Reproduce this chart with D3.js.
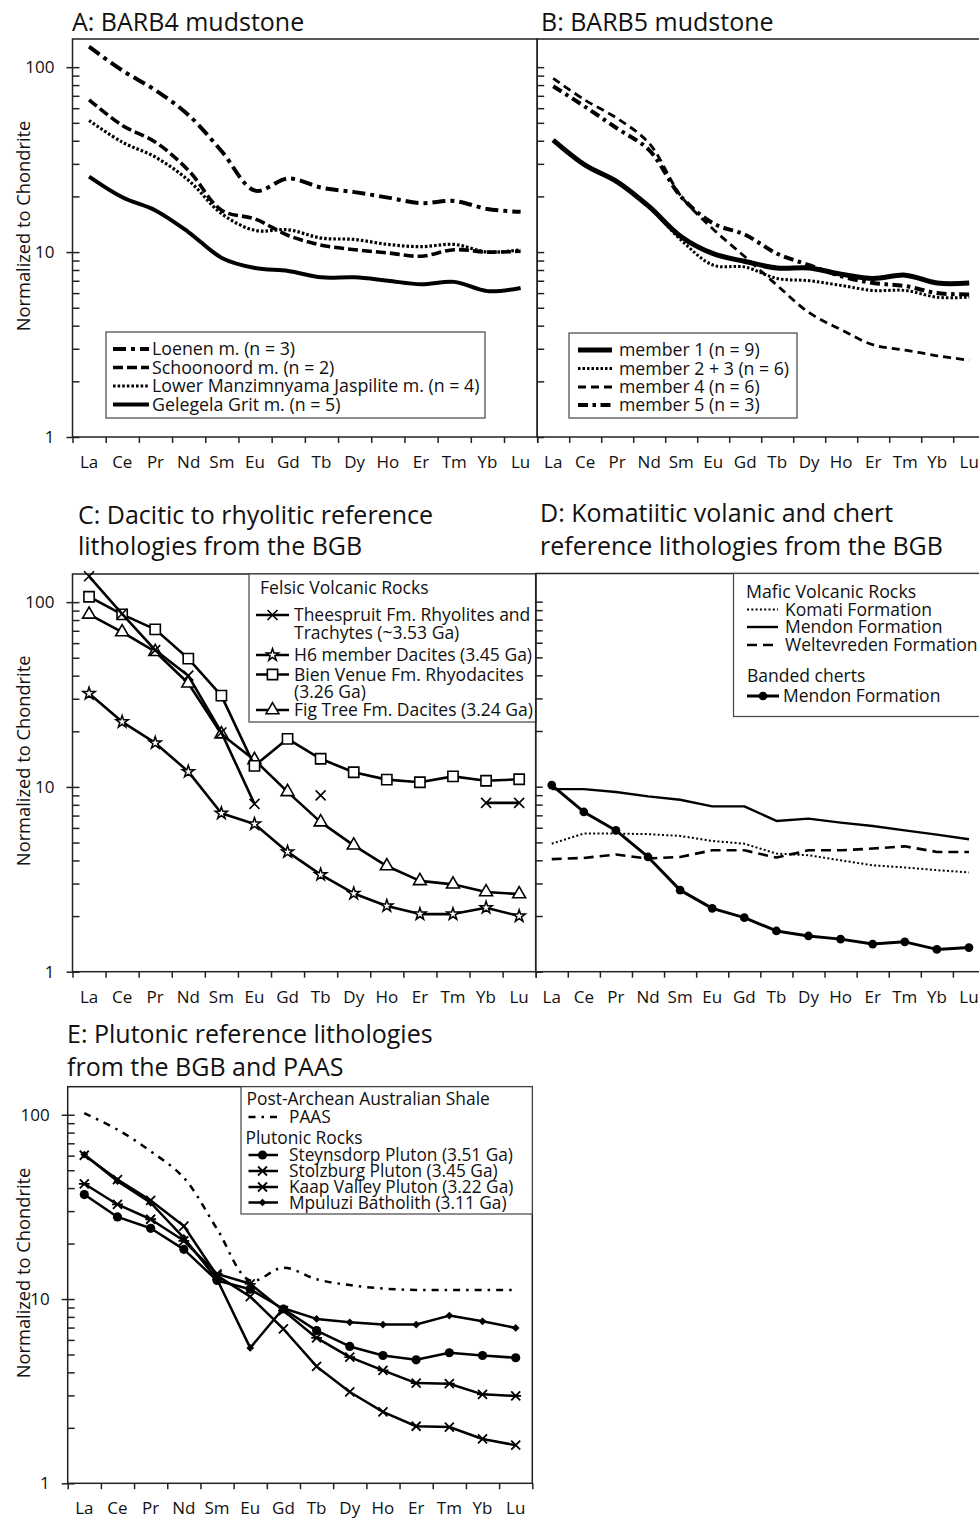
<!DOCTYPE html>
<html>
<head>
<meta charset="utf-8">
<script src="https://cdn.jsdelivr.net/npm/d3@7"></script>
<style>
  html, body { margin: 0; padding: 0; background: #fff; }
  svg { display: block; font-family: 'Open Sans', sans-serif; }
</style>
</head>
<body>
<svg id="fig" width="979" height="1519"></svg>
<script>
// ---- rare earth elements (x categories) and y tick labels ----
const elements = ["La", "Ce", "Pr", "Nd", "Sm", "Eu", "Gd", "Tb", "Dy", "Ho", "Er", "Tm", "Yb", "Lu"];
const yTickValues = [1, 10, 100];
const yTickLabels = ["1", "10", "100"];
const yMinorValues = [2, 3, 4, 5, 6, 7, 8, 9, 20, 30, 40, 50, 60, 70, 80, 90];
const yDomain = [1, 142];

// ---- A: BARB4 mudstone ----
const barb4Loenen       = [129, 96, 75, 55, 35, 21.5, 25, 22.3, 21.1, 19.7, 18.4, 18.9, 17.1, 16.5];
const barb4Schoonoord   = [66.6, 48.4, 39.3, 27.6, 16.8, 15.1, 12.3, 10.9, 10.3, 9.9, 9.5, 10.3, 10.0, 10.1];
const barb4LowerManz    = [51.5, 39.3, 32.6, 24.4, 16.1, 13.1, 13.2, 11.9, 11.7, 11.0, 10.7, 11.0, 10.0, 10.3];
const barb4Gelegela     = [25.6, 19.8, 16.8, 12.8, 9.3, 8.2, 7.9, 7.3, 7.3, 7.0, 6.7, 6.9, 6.15, 6.4];

// ---- B: BARB5 mudstone ----
const barb5Member1      = [40.3, 29.5, 24.0, 17.6, 12.1, 9.8, 8.9, 8.2, 8.2, 7.6, 7.2, 7.5, 6.8, 6.8];
const barb5Member23     = [40.3, 29.5, 24.0, 17.6, 11.6, 8.5, 8.3, 7.2, 7.0, 6.6, 6.2, 6.2, 5.7, 5.7];
const barb5Member4      = [86.9, 66.3, 52.8, 38.7, 20.0, 13.3, 9.4, 6.6, 4.7, 3.8, 3.15, 2.95, 2.75, 2.6];
const barb5Member5      = [78.9, 61.0, 46.6, 35.6, 19.9, 14.3, 12.4, 9.8, 8.5, 7.4, 6.8, 6.55, 6.0, 5.9];

// ---- C: felsic volcanic rocks ----
const theespruit        = [138, 86.5, 55, 40, 19.7, 8.1, null, 9.0, null, null, null, null, 8.2, 8.2];
const h6Dacites         = [32.0, 22.5, 17.3, 12.1, 7.2, 6.3, 4.45, 3.35, 2.65, 2.27, 2.05, 2.05, 2.22, 2.0];
const bienVenue         = [107, 85.8, 71.2, 49.5, 31.2, 13.0, 18.2, 14.2, 12.0, 10.95, 10.6, 11.4, 10.8, 11.0];
const figTree           = [85.8, 68.9, 53.9, 36.4, 19.3, 14.0, 9.4, 6.45, 4.83, 3.73, 3.1, 2.97, 2.7, 2.63];

// ---- D: mafic volcanic rocks and banded cherts ----
const komati            = [4.92, 5.58, 5.58, 5.54, 5.42, 5.09, 4.92, 4.35, 4.26, 4.0, 3.76, 3.66, 3.54, 3.44];
const mendonVolcanic    = [9.7, 9.7, 9.36, 8.87, 8.5, 7.83, 7.83, 6.53, 6.72, 6.39, 6.13, 5.81, 5.51, 5.2];
const weltevreden       = [4.06, 4.12, 4.3, 4.09, 4.17, 4.53, 4.53, 4.14, 4.53, 4.53, 4.63, 4.76, 4.44, 4.44];
const mendonChert       = [10.2, 7.3, 5.8, 4.17, 2.76, 2.2, 1.96, 1.66, 1.56, 1.5, 1.41, 1.45, 1.32, 1.35];

// ---- E: plutonic rocks and PAAS ----
const paas              = [102, 83, 63.4, 45.5, 24, 12.6, 14.8, 12.8, 11.9, 11.4, 11.2, 11.2, 11.2, 11.2];
const steynsdorp        = [36.9, 27.9, 24.2, 18.6, 12.6, 11.3, 8.83, 6.74, 5.53, 4.94, 4.68, 5.11, 4.94, 4.8];
const stolzburg         = [60.3, 44.5, 34.3, 24.9, 13.4, 10.3, 6.88, 4.31, 3.13, 2.44, 2.04, 2.02, 1.74, 1.61];
const kaapValley        = [42.2, 32.6, 27.1, 20.7, 13.7, 12.1, 8.65, 6.15, 4.84, 4.10, 3.50, 3.47, 3.04, 2.98];
const mpuluzi           = [60.8, 43.6, 33.3, 21.5, 12.8, 5.43, 8.91, 7.80, 7.48, 7.27, 7.27, 8.13, 7.57, 6.97];

// ---- marker shapes ----
const symTimes = { draw(ctx, size) { const r = Math.sqrt(size) / 2;
  ctx.moveTo(-r, -r); ctx.lineTo(r, r); ctx.moveTo(r, -r); ctx.lineTo(-r, r); } };
const symTimesBar = { draw(ctx, size) { const r = Math.sqrt(size) / 2;
  ctx.moveTo(-r, -r); ctx.lineTo(r, r); ctx.moveTo(r, -r); ctx.lineTo(-r, r);
  ctx.moveTo(-r * 1.2, 0); ctx.lineTo(r * 1.2, 0); } };
const symDiamond = { draw(ctx, size) { const r = Math.sqrt(size) / 2;
  ctx.moveTo(0, -r); ctx.lineTo(r, 0); ctx.lineTo(0, r); ctx.lineTo(-r, 0); ctx.closePath(); } };

const smooth = d3.curveCatmullRom.alpha(0.5);

// ---- series styles ----
const S = {
  loenen:     { name: "Loenen m. (n = 3)", values: barb4Loenen, width: 4, dash: "13,5,4,5", curve: smooth },
  schoonoord: { name: "Schoonoord m. (n = 2)", values: barb4Schoonoord, width: 3.6, dash: "10,4", curve: smooth },
  lowerManz:  { name: "Lower Manzimnyama Jaspilite m. (n = 4)", values: barb4LowerManz, width: 3.2, dash: "2.6,2", curve: smooth },
  gelegela:   { name: "Gelegela Grit m. (n = 5)", values: barb4Gelegela, width: 4, dash: null, curve: smooth },

  member1:    { name: "member 1 (n = 9)", values: barb5Member1, width: 5, dash: null, curve: smooth },
  member23:   { name: "member 2 + 3 (n = 6)", values: barb5Member23, width: 3, dash: "2.5,2", curve: smooth },
  member4:    { name: "member 4 (n = 6)", values: barb5Member4, width: 2.8, dash: "8,5", curve: smooth },
  member5:    { name: "member 5 (n = 3)", values: barb5Member5, width: 4, dash: "10,4.5,3.5,4.5", curve: smooth },

  theespruit: { values: theespruit, width: 2.6, marker: symTimes, msize: 100, mfill: "none", mwidth: 1.6 },
  h6:         { values: h6Dacites, width: 2.6, marker: d3.symbolStar, msize: 46, mfill: "#fff", mwidth: 1.5 },
  bienVenue:  { values: bienVenue, width: 2.6, marker: d3.symbolSquare, msize: 105, mfill: "#fff", mwidth: 1.6 },
  figTree:    { values: figTree, width: 2.6, marker: d3.symbolTriangle, msize: 72, mfill: "#fff", mwidth: 1.6 },

  komati:     { values: komati, width: 2, dash: "2,2.3" },
  mendonV:    { values: mendonVolcanic, width: 2.4, dash: null },
  weltev:     { values: weltevreden, width: 2.6, dash: "10,6" },
  mendonC:    { values: mendonChert, width: 3, dash: null, marker: d3.symbolCircle, msize: 60, mfill: "#000", mwidth: 0 },

  paas:       { values: paas, width: 2.5, dash: "7,6,2.5,6", curve: smooth },
  steyn:      { values: steynsdorp, width: 2.5, marker: d3.symbolCircle, msize: 66, mfill: "#000", mwidth: 0 },
  stolz:      { values: stolzburg, width: 2.5, marker: symTimes, msize: 81, mfill: "none", mwidth: 1.8 },
  kaap:       { values: kaapValley, width: 2.5, marker: symTimesBar, msize: 81, mfill: "none", mwidth: 1.8 },
  mpul:       { values: mpuluzi, width: 2.5, marker: symDiamond, msize: 60, mfill: "#000", mwidth: 0 }
};

// ---- panel layout ----
const panels = [
  { frame: { left: 72.5, right: 537.2, top: 39, bottom: 437 }, yLabels: true,
    title: [{ t: "A: BARB4 mudstone", x: 72, y: 31 }],
    series: [S.gelegela, S.lowerManz, S.schoonoord, S.loenen],
    legend: { box: [106, 332, 379, 86], size: 17.8, rows: [
      { s: S.loenen, x0: 113, x1: 149, tx: 152, cy: 349, text: [S.loenen.name] },
      { s: S.schoonoord, x0: 113, x1: 149, tx: 152, cy: 367.5, text: [S.schoonoord.name] },
      { s: S.lowerManz, x0: 113, x1: 149, tx: 152, cy: 386, text: [S.lowerManz.name] },
      { s: S.gelegela, x0: 113, x1: 149, tx: 152, cy: 404.5, text: [S.gelegela.name] } ] } },
  { frame: { left: 537.2, right: 985.2, top: 39, bottom: 437 }, yLabels: false,
    title: [{ t: "B: BARB5 mudstone", x: 541, y: 31 }],
    series: [S.member4, S.member5, S.member23, S.member1],
    legend: { box: [569, 333, 228, 85], size: 17.7, rows: [
      { s: S.member1, x0: 578, x1: 612, tx: 619, cy: 350, text: [S.member1.name] },
      { s: S.member23, x0: 578, x1: 612, tx: 619, cy: 368.5, text: [S.member23.name] },
      { s: S.member4, x0: 578, x1: 612, tx: 619, cy: 387, text: [S.member4.name] },
      { s: S.member5, x0: 578, x1: 612, tx: 619, cy: 405, text: [S.member5.name] } ] } },
  { frame: { left: 72.5, right: 535.7, top: 574, bottom: 971.7 }, yLabels: true,
    title: [{ t: "C: Dacitic to rhyolitic reference", x: 78, y: 524 }, { t: "lithologies from the BGB", x: 78, y: 555 }],
    series: [S.h6, S.figTree, S.bienVenue, S.theespruit],
    legend: { box: [249, 574, 287, 148], size: 17.5, rows: [
      { tx: 260, cy: 588, text: ["Felsic Volcanic Rocks"], size: 17.6 },
      { s: S.theespruit, x0: 256, x1: 289, mx: 272.5, tx: 294, cy: 615, lh: 17.5, text: ["Theespruit Fm. Rhyolites and", "Trachytes (~3.53 Ga)"] },
      { s: S.h6, x0: 256, x1: 289, mx: 272.5, tx: 294, cy: 655, text: ["H6 member Dacites (3.45 Ga)"] },
      { s: S.bienVenue, x0: 256, x1: 289, mx: 272.5, tx: 294, cy: 674.5, lh: 17.5, text: ["Bien Venue Fm. Rhyodacites", "(3.26 Ga)"] },
      { s: S.figTree, x0: 256, x1: 289, mx: 272.5, tx: 294, cy: 710, text: ["Fig Tree Fm. Dacites (3.24 Ga)"] } ] } },
  { frame: { left: 535.7, right: 985, top: 573.5, bottom: 971.7 }, yLabels: false,
    title: [{ t: "D: Komatiitic volanic and chert", x: 540, y: 522 }, { t: "reference lithologies from the BGB", x: 540, y: 555 }],
    series: [S.weltev, S.komati, S.mendonV, S.mendonC],
    legend: { box: [733.5, 573.5, 260, 143], size: 17.5, rows: [
      { tx: 746, cy: 592, text: ["Mafic Volcanic Rocks"], size: 17.8 },
      { s: S.komati, x0: 747, x1: 778, tx: 785, cy: 609.5, text: ["Komati Formation"] },
      { s: S.mendonV, x0: 747, x1: 778, tx: 785, cy: 627, text: ["Mendon Formation"] },
      { s: S.weltev, x0: 747, x1: 778, tx: 785, cy: 645, text: ["Weltevreden Formation"] },
      { tx: 747, cy: 676, text: ["Banded cherts"] },
      { s: S.mendonC, x0: 747, x1: 779, mx: 763, tx: 783, cy: 696, text: ["Mendon Formation"] } ] } },
  { frame: { left: 67.7, right: 532.3, top: 1086.7, bottom: 1483.3 }, yLabels: true,
    title: [{ t: "E: Plutonic reference lithologies", x: 67, y: 1043 }, { t: "from the BGB and PAAS", x: 67, y: 1076 }],
    series: [S.paas, S.steyn, S.kaap, S.stolz, S.mpul],
    legend: { box: [241, 1086.7, 291.3, 127.3], size: 17.3, rows: [
      { tx: 246.5, cy: 1098.5, text: ["Post-Archean Australian Shale"], size: 17.4 },
      { s: S.paas, x0: 248.5, x1: 277, tx: 289, cy: 1117, text: ["PAAS"] },
      { tx: 245.5, cy: 1138, text: ["Plutonic Rocks"], size: 17.4 },
      { s: S.steyn, x0: 248.5, x1: 278, mx: 262.5, tx: 289, cy: 1155, text: ["Steynsdorp Pluton (3.51 Ga)"] },
      { s: S.stolz, x0: 248.5, x1: 278, mx: 262.5, tx: 289, cy: 1171, text: ["Stolzburg Pluton (3.45 Ga)"] },
      { s: S.kaap, x0: 248.5, x1: 278, mx: 262.5, tx: 289, cy: 1187, text: ["Kaap Valley Pluton (3.22 Ga)"] },
      { s: S.mpul, x0: 248.5, x1: 278, mx: 262.5, tx: 289, cy: 1202.5, text: ["Mpuluzi Batholith (3.11 Ga)"] } ] } }
];

const INK = "#111";
const svg = d3.select("#fig");
svg.append("rect").attr("width", 979).attr("height", 1519).attr("fill", "#fff");

function styleLine(sel, s) {
  sel.attr("fill", "none").attr("stroke", "#000").attr("stroke-width", s.width)
     .attr("stroke-linejoin", "round").attr("stroke-dasharray", s.dash || null);
}
function drawMarker(g, s, x, y) {
  g.append("path")
    .attr("d", d3.symbol().type(s.marker).size(s.msize)())
    .attr("transform", `translate(${x},${y})`)
    .attr("fill", s.mfill)
    .attr("stroke", s.mwidth ? "#000" : "none")
    .attr("stroke-width", s.mwidth || 0);
}

panels.forEach(p => {
  const { left, right, top, bottom } = p.frame;
  const g = svg.append("g");

  const x = d3.scaleBand().domain(elements).range([left, right]);
  const xc = e => x(e) + x.bandwidth() / 2;
  const edges = d3.scaleLinear().domain([0, elements.length]).range([left, right]);
  const y = d3.scaleLog().domain(yDomain).range([bottom, top]);

  // titles
  p.title.forEach(t => g.append("text").attr("x", t.x).attr("y", t.y)
    .attr("font-size", 25).attr("fill", INK).text(t.t));

  // frame
  g.append("rect").attr("x", left).attr("y", top)
    .attr("width", right - left).attr("height", bottom - top)
    .attr("fill", "none").attr("stroke", "#222").attr("stroke-width", 1.5);

  // x axis: tick marks at band edges, element labels at band centres
  const xTicks = g.append("g").attr("transform", `translate(0,${bottom})`)
    .call(d3.axisBottom(edges).tickValues(d3.range(elements.length + 1)).tickSize(6).tickFormat(""));
  xTicks.select(".domain").remove();
  xTicks.selectAll("line").attr("stroke", "#222").attr("stroke-width", 1.5);

  const xLab = g.append("g").attr("transform", `translate(0,${bottom})`)
    .call(d3.axisBottom(x).tickSize(0).tickPadding(19));
  xLab.select(".domain").remove();
  xLab.selectAll("text").attr("font-size", 17).attr("font-family", "'Open Sans', sans-serif").attr("fill", INK);

  // y axis: minor ticks inside, majors crossing (labelled panels) or inside
  const yMinor = g.append("g").attr("transform", `translate(${left},0)`)
    .call(d3.axisRight(y).tickValues(yMinorValues.filter(v => v <= yDomain[1])).tickSize(7).tickFormat(""));
  yMinor.select(".domain").remove();
  yMinor.selectAll("line").attr("stroke", "#222").attr("stroke-width", 1.5);

  if (p.yLabels) {
    const yMajor = g.append("g").attr("transform", `translate(${left},0)`)
      .call(d3.axisLeft(y).tickValues(yTickValues).tickFormat((d, i) => yTickLabels[i]).tickSize(6).tickPadding(12));
    yMajor.select(".domain").remove();
    yMajor.selectAll("line").attr("x1", 7).attr("stroke", "#222").attr("stroke-width", 1.5);
    yMajor.selectAll("text").attr("font-size", 17).attr("font-family", "'Open Sans', sans-serif").attr("fill", INK);

    g.append("text")
      .attr("transform", `translate(24,${(top + bottom) / 2 - 12}) rotate(-90)`)
      .attr("text-anchor", "middle").attr("dy", "0.35em")
      .attr("font-size", 18.3).attr("fill", INK).text("Normalized to Chondrite");
  } else {
    const yMajor = g.append("g").attr("transform", `translate(${left},0)`)
      .call(d3.axisRight(y).tickValues(yTickValues).tickSize(7).tickFormat(""));
    yMajor.select(".domain").remove();
    yMajor.selectAll("line").attr("stroke", "#222").attr("stroke-width", 1.5);
  }

  // series lines and markers
  p.series.forEach(s => {
    const line = d3.line()
      .defined(d => d != null)
      .x((d, i) => xc(elements[i]))
      .y(d => y(d))
      .curve(s.curve || d3.curveLinear);
    styleLine(g.append("path").attr("d", line(s.values)), s);
    if (s.marker) {
      s.values.forEach((v, i) => { if (v != null) drawMarker(g, s, xc(elements[i]), y(v)); });
    }
  });

  // legend
  const lg = p.legend;
  const L = g.append("g");
  L.append("rect").attr("x", lg.box[0]).attr("y", lg.box[1]).attr("width", lg.box[2]).attr("height", lg.box[3])
    .attr("fill", "#fff").attr("stroke", "#444").attr("stroke-width", 1.2);
  lg.rows.forEach(r => {
    if (r.s) {
      styleLine(L.append("path").attr("d", d3.line()([[r.x0, r.cy], [r.x1, r.cy]])), r.s);
      if (r.s.marker) drawMarker(L, r.s, r.mx, r.cy);
    }
    r.text.forEach((t, k) => L.append("text")
      .attr("x", r.tx).attr("y", r.cy + k * (r.lh || 0)).attr("dy", "0.35em")
      .attr("font-size", r.size || lg.size).attr("fill", INK).text(t));
  });
});
</script>
</body>
</html>
